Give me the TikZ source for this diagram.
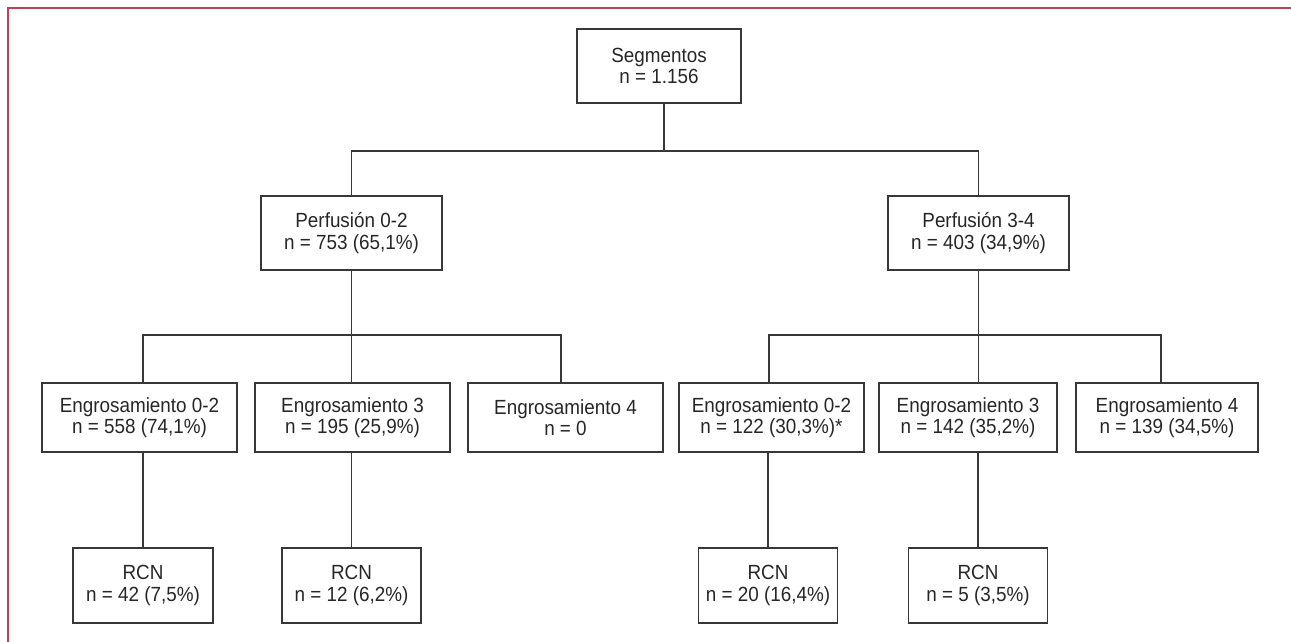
\documentclass[tikz,border=0pt]{standalone}
\usepackage{fontspec}
\setmainfont{Liberation Sans}[FakeStretch=0.92]
\usetikzlibrary{positioning}
\definecolor{framered}{RGB}{192,64,86}
\definecolor{boxline}{RGB}{55,55,55}
\tikzset{
  box/.style={draw=boxline, line width=1.3pt, align=center, inner sep=2pt,
    font=\fontsize{20.5}{21.5}\selectfont, text=black!85},
  link/.style={draw=boxline, line width=1.3pt}
}
\begin{document}
\begin{tikzpicture}[x=1pt, y=-1pt]
\useasboundingbox (0,0) rectangle (1291,642);
\draw [framered, line width=2pt] (8,642) -- (8,8) -- (1291,8);

% top
\node [box, minimum width=164pt, minimum height=74pt] (seg) at (659,66) {Segmentos\\n = 1.156};

% perfusion
\node [box, minimum width=181pt, minimum height=74pt] (perfA) at (351.5,233) {Perfusión 0-2\\n = 753 (65,1\%)};
\node [box, minimum width=181pt, minimum height=74pt] (perfB) at (978.5,233) {Perfusión 3-4\\n = 403 (34,9\%)};

% engrosamiento
\node [box, minimum width=195pt, minimum height=69pt] (engA1) at (139.5,417.5) {Engrosamiento 0-2\\n = 558 (74,1\%)};
\node [box, minimum width=195pt, minimum height=69pt] (engA2) at (352.5,417.5) {Engrosamiento 3\\n = 195 (25,9\%)};
\node [box, minimum width=195pt, minimum height=69pt] (engA3) at (565.5,417.5) {Engrosamiento 4\\n = 0};
\node [box, minimum width=185pt, minimum height=69pt] (engB1) at (771.5,417.5) {Engrosamiento 0-2\\n = 122 (30,3\%)*};
\node [box, minimum width=178pt, minimum height=69pt] (engB2) at (968,417.5) {Engrosamiento 3\\n = 142 (35,2\%)};
\node [box, minimum width=182pt, minimum height=69pt] (engB3) at (1167,417.5) {Engrosamiento 4\\n = 139 (34,5\%)};

% RCN
\node [box, minimum width=140pt, minimum height=75pt] (rcnA1) at (143,585.5) {RCN\\n = 42 (7,5\%)};
\node [box, minimum width=139pt, minimum height=75pt] (rcnA2) at (351.5,585.5) {RCN\\n = 12 (6,2\%)};
\node [box, minimum width=139pt, minimum height=75pt] (rcnB1) at (768,585.5) {RCN\\n = 20 (16,4\%)};
\node [box, minimum width=139pt, minimum height=75pt] (rcnB2) at (978,585.5) {RCN\\n = 5 (3,5\%)};

% connectors
\coordinate (busS) at (664,151);
\coordinate (busA) at (351.5,335);
\coordinate (busB) at (978.5,335);
\coordinate (dropA1) at (143,383);
\coordinate (dropA3) at (561,383);
\coordinate (dropB1) at (769,383);
\coordinate (dropB3) at (1161,383);
\draw [link] (seg.south -| busS) -- (busS);
\draw [link] (perfA.north) |- (busS) -| (perfB.north);
\draw [link] (perfA.south) -- (perfA.south |- engA2.north);
\draw [link] (dropA1) |- (busA) -| (dropA3);
\draw [link] (perfB.south) -- (perfB.south |- engB2.north);
\draw [link] (dropB1) |- (busB) -| (dropB3);
\draw [link] (rcnA1.north) -- (rcnA1.north |- engA1.south);
\draw [link] (rcnA2.north) -- (rcnA2.north |- engA2.south);
\draw [link] (rcnB1.north) -- (rcnB1.north |- engB1.south);
\draw [link] (rcnB2.north) -- (rcnB2.north |- engB2.south);
\end{tikzpicture}
\end{document}
